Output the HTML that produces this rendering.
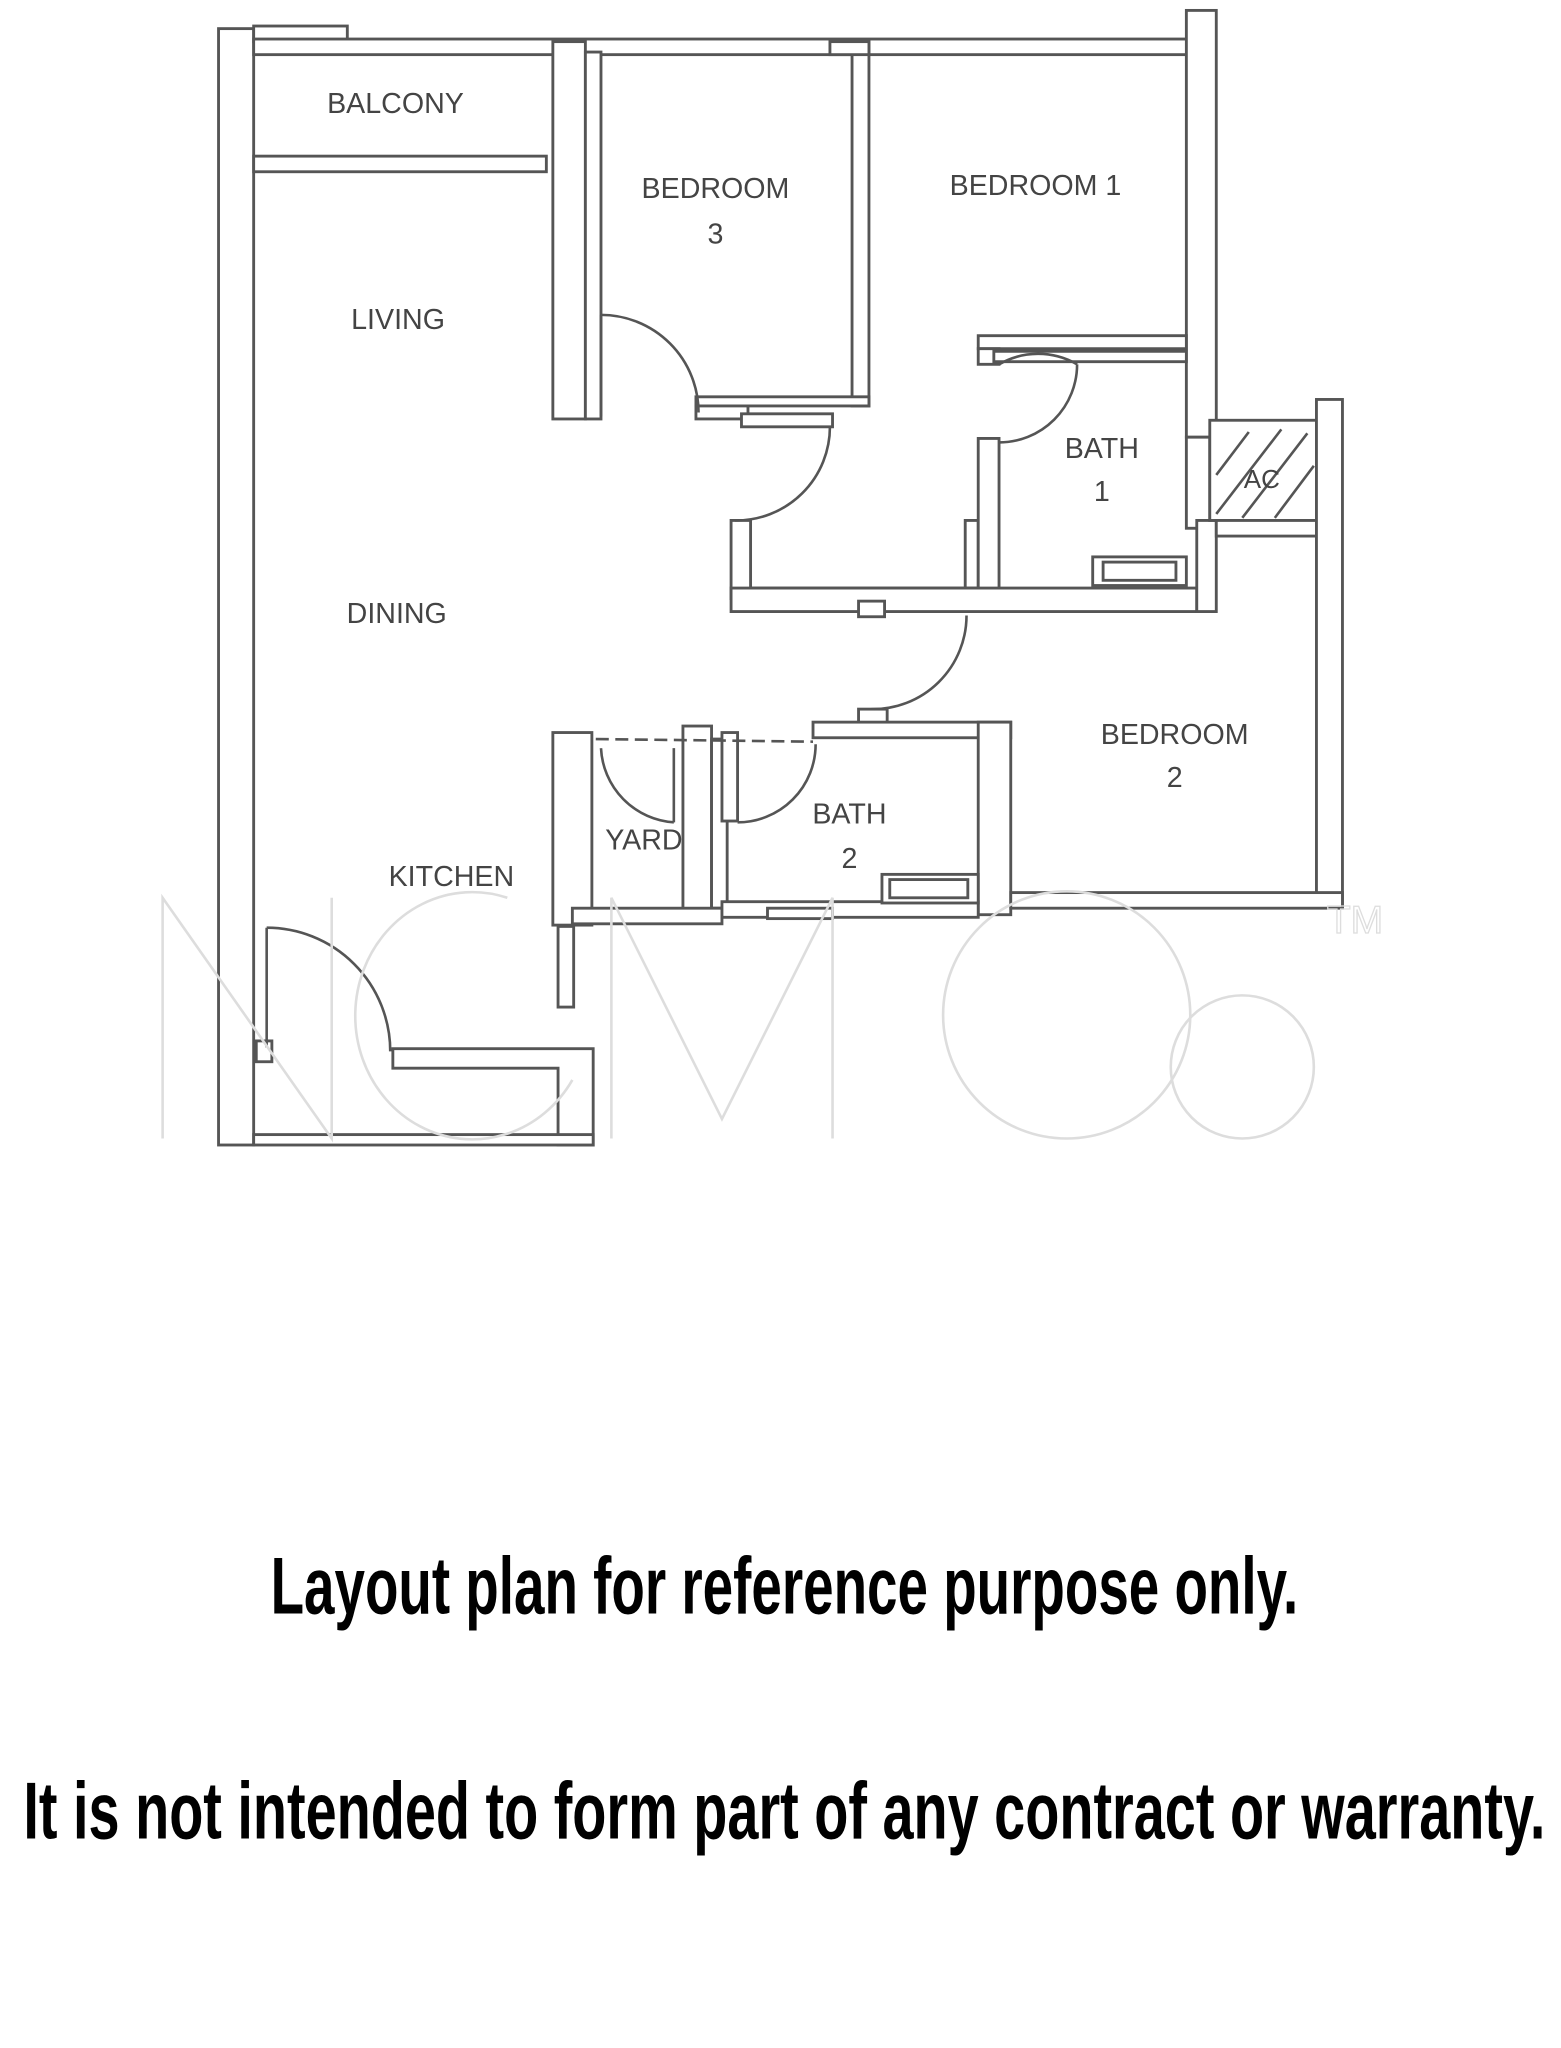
<!DOCTYPE html>
<html><head><meta charset="utf-8"><style>
html,body{margin:0;padding:0;background:#fff;}
svg{display:block}
</style></head><body>
<svg width="1561" height="2048" viewBox="0 0 1200 1574" preserveAspectRatio="none" xmlns="http://www.w3.org/2000/svg">
<rect width="1200" height="1574" fill="#fff"/>
<g fill="#fff" stroke="#555" stroke-width="2.2">
<rect x="168" y="22" width="27" height="858"/>
<rect x="195" y="20" width="72" height="12"/>
<rect x="195" y="30" width="720" height="12"/>
<rect x="912" y="8" width="23" height="328"/>
<rect x="195" y="120" width="225" height="12"/>
<rect x="425" y="32" width="25" height="290"/>
<rect x="450" y="40" width="12" height="282"/>
<rect x="655" y="32" width="13" height="280"/>
<rect x="638" y="32" width="30" height="10"/>
<path d="M535 305 H668 V312 H535 Z"/>
<path d="M535 312 H575 V322 H535 Z"/>
<path d="M570 318 H640 V328 H570 Z"/>
<path d="M562 400 H577 V452 H752 V400 H742 V460 H562 Z"/>
<path d="M562 452 H920 V470 H562 Z"/>
<path d="M752 258 H912 V268 H752 Z"/>
<path d="M752 268 H768 V280 H752 Z"/>
<path d="M752 337 H768 V452 H752 Z"/>
<path d="M764 270 H912 V278 H764 Z"/>
<rect x="840" y="428" width="72" height="22"/>
<rect x="848" y="432" width="56" height="14"/>
<rect x="912" y="336" width="18" height="70"/>
<path d="M920 400 H935 V470 H920 Z"/>
<rect x="930" y="323" width="82" height="77"/>
<rect x="935" y="400" width="77" height="12"/>
<rect x="1012" y="307" width="20" height="390"/>
<rect x="660" y="462" width="20" height="12"/>
<rect x="660" y="545" width="22" height="12"/>
<rect x="625" y="555" width="152" height="12"/>
<rect x="752" y="555" width="25" height="148"/>
<rect x="777" y="686" width="255" height="12"/>
<rect x="425" y="563" width="30" height="148"/>
<rect x="525" y="558" width="22" height="148"/>
<rect x="547" y="568" width="12" height="130"/>
<rect x="555" y="563" width="12" height="68"/>
<rect x="440" y="698" width="115" height="12"/>
<rect x="555" y="693" width="197" height="12"/>
<rect x="678" y="672" width="74" height="22"/>
<rect x="684" y="676" width="60" height="14"/>
<rect x="590" y="698" width="50" height="8"/>
<rect x="429" y="712" width="12" height="62"/>
<path d="M302 806 H456 V880 H429 V821 H302 Z"/>
<rect x="195" y="872" width="261" height="8"/>
<rect x="197" y="800" width="12" height="16"/>
</g>
<g stroke="#555" stroke-width="2">
<line x1="935" y1="395" x2="985" y2="330"/>
<line x1="955" y1="398" x2="1005" y2="333"/>
<line x1="980" y1="398" x2="1010" y2="358"/>
<line x1="935" y1="365" x2="960" y2="332"/>
</g>
<g fill="none" stroke="#555" stroke-width="2">
<path d="M462 242 A75 75 0 0 1 537 317"/>
<line x1="462" y1="242" x2="462" y2="320"/>
<path d="M565 400 A72 72 0 0 0 638 328"/>
<path d="M768 280 A60 60 0 0 1 828 280 M768 340 A60 60 0 0 0 828 280"/>
<path d="M670 545 A72 72 0 0 0 743 473"/>
<line x1="458" y1="568" x2="625" y2="570" stroke-dasharray="10 5"/>
<path d="M462 575 A60 60 0 0 0 518 632"/>
<line x1="518" y1="575" x2="518" y2="632"/>
<path d="M567 632 A60 60 0 0 0 627 572"/>
<path d="M205 713 A95 95 0 0 1 300 808"/>
<line x1="205" y1="713" x2="205" y2="805"/>
</g>
<g fill="none" stroke="#ddd" stroke-width="2">
<path d="M125 875 V690 L255 875 V690"/>
<path d="M390 690 A90 95 0 1 0 440 830"/>
<path d="M470 875 V690 L555 860 L640 690 V875"/>
<circle cx="820" cy="780" r="95"/>
<circle cx="955" cy="820" r="55"/>
</g>
<text x="1020" y="717" font-family="Liberation Sans, sans-serif" font-size="30" fill="none" stroke="#ddd">TM</text>
<g font-family="Liberation Sans, sans-serif" font-size="22" fill="#444" text-anchor="middle">
<text x="304" y="87">BALCONY</text>
<text x="550" y="152">BEDROOM</text>
<text x="550" y="187">3</text>
<text x="796" y="150">BEDROOM 1</text>
<text x="306" y="253">LIVING</text>
<text x="847" y="352">BATH</text>
<text x="847" y="385">1</text>
<text x="970" y="375" font-size="20">AC</text>
<text x="305" y="479">DINING</text>
<text x="903" y="572">BEDROOM</text>
<text x="903" y="605">2</text>
<text x="653" y="633">BATH</text>
<text x="653" y="667">2</text>
<text x="495" y="653">YARD</text>
<text x="347" y="681">KITCHEN</text>
</g>
<g font-family="Liberation Sans Narrow, Liberation Sans, sans-serif" font-weight="bold" fill="#000">
<text x="208" y="1240" font-size="62" textLength="790" lengthAdjust="spacingAndGlyphs">Layout plan for reference purpose only.</text>
<text x="18" y="1413" font-size="62" textLength="1170" lengthAdjust="spacingAndGlyphs">It is not intended to form part of any contract or warranty.</text>
</g>
</svg>
</body></html>
